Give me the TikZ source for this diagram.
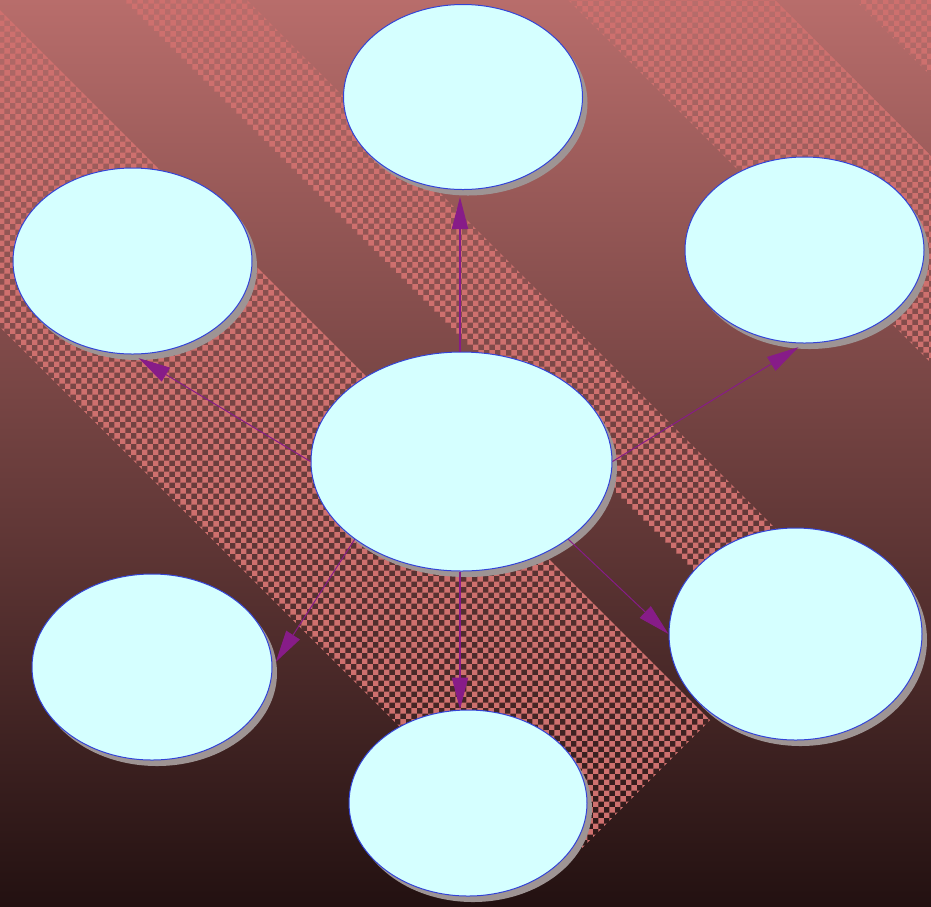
\documentclass[tikz,border=0pt]{standalone}
\usepackage{tikz}
\usetikzlibrary{arrows.meta,shapes.geometric,shadows,patterns}
\usepackage{xcolor}
\definecolor{bgtop}{HTML}{B86D6B}
\definecolor{bgmid}{HTML}{7C4644}
\definecolor{bgbot}{HTML}{231111}
\definecolor{stripe}{HTML}{CE706E}
\definecolor{nodecyan}{HTML}{D5FFFF}
\definecolor{rimblue}{HTML}{3343D6}
\definecolor{shadowgrey}{HTML}{9E9494}
\definecolor{arrpurple}{HTML}{871C88}

\begin{document}
\begin{tikzpicture}[
  x=1pt, y=-1pt,
  bubble/.style={ellipse, draw=rimblue, line width=1pt, fill=nodecyan, inner sep=0pt,
    drop shadow={shadow xshift=5pt, shadow yshift=-6pt, fill=shadowgrey, opacity=1}},
  arr/.style={-{Triangle[length=32pt, width=16pt]}, draw=arrpurple, line width=1pt},
  band/.style={pattern=checkerboard, pattern color=stripe},
]
  \clip (0,0) rectangle (931,906);

  % Background + diagonal stripes
  \shade[top color=bgtop, middle color=bgmid, bottom color=bgbot] (0,0) rectangle (931,906);
  \path[band] (-55,-45) -- (710,720) -- (551.5,878.5) -- (-213.5,113.5) -- cycle;
  \path[band] (73.5,-173.5) -- (903.5,656.5) -- (841.5,718.5) -- (11.5,-111.5) -- cycle;
  \path[band] (587.5,-187.5) -- (1287.5,512.5) -- (1184,616) -- (484,-84) -- cycle;
  \path[band] (850,-150) -- (1500,500) -- (1427.5,572.5) -- (777.5,-77.5) -- cycle;

  % Ellipses
  \node[bubble, minimum width=239pt, minimum height=185pt] (top) at (463,97) {};
  \node[bubble, minimum width=239pt, minimum height=186pt] (ul) at (132.5,261) {};
  \node[bubble, minimum width=239pt, minimum height=186pt] (ur) at (804.5,250) {};
  \node[bubble, minimum width=301pt, minimum height=219pt] (hub) at (461.5,461.5) {};
  \node[bubble, minimum width=240pt, minimum height=186pt] (ll) at (152,667) {};
  \node[bubble, minimum width=238pt, minimum height=186pt] (bot) at (468,803) {};
  \node[bubble, minimum width=253pt, minimum height=212pt] (lr) at (795.5,634) {};

  % Edges
  \draw[arr, line width=2pt, shorten >=7pt] ([xshift=-1.5pt]hub.north) -- ([xshift=-1.5pt]hub.north |- top.south);
  \draw[arr, shorten >=7pt] (hub.west) -- (ul.south);
  \draw[arr, shorten >=7pt] (hub.east) -- (ur.south);
  \draw[arr, shorten >=6pt] (hub.south west) -- (ll.east);
  \draw[arr] (hub.south east) -- (lr.west);
  \draw[arr, line width=2pt] ([xshift=-1.5pt]hub.south) -- ([xshift=-1.5pt]hub.south |- bot.north);
\end{tikzpicture}
\end{document}
